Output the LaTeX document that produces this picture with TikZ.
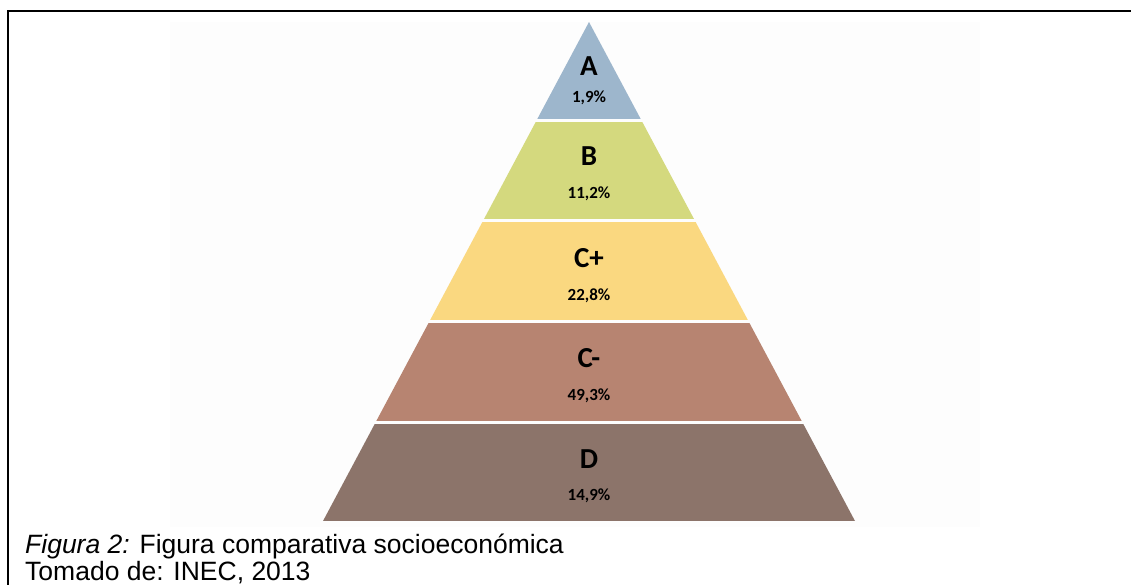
\documentclass[tikz,border=0pt]{standalone}
\usepackage{fontspec}
\setmainfont{Liberation Sans}
\newfontfamily\lblfont{Carlito}
\definecolor{cA}{RGB}{157,182,204}
\definecolor{cB}{RGB}{212,217,126}
\definecolor{cCp}{RGB}{250,216,128}
\definecolor{cCm}{RGB}{183,132,113}
\definecolor{cD}{RGB}{140,116,106}
\definecolor{bgfaint}{RGB}{253,253,253}
\tikzset{
  lvl/.style={font=\lblfont\bfseries\fontsize{29}{31}\selectfont, anchor=base, inner sep=0pt},
  pct/.style={font=\lblfont\bfseries\fontsize{17}{19}\selectfont, anchor=base, inner sep=0pt},
  captxt/.style={font=\fontsize{26.5}{30}\selectfont, anchor=base west, inner sep=0pt},
  frameline/.style={line width=2.6pt}
}
\begin{document}
\begin{tikzpicture}[x=1pt,y=-1pt]
\useasboundingbox (0,0) rectangle (1131,585);
\fill[white] (0,0) rectangle (1131,585);
\fill[bgfaint] (170,22) rectangle (980,527);
\draw[frameline] (8,585) -- (8,11) -- (1131,11);
\begin{scope}
  \clip (589,22) -- (323,521) -- (855,521) -- cycle;
  \fill[cA] (300,0) rectangle (900,119);
  \fill[cB] (300,122) rectangle (900,219);
  \fill[cCp] (300,222) rectangle (900,320);
  \fill[cCm] (300,323) rectangle (900,421);
  \fill[cD] (300,424) rectangle (900,521);
\end{scope}
\node[lvl] (la) at (589,76) {A};
\node[pct] (pa) at (589,103) {1,9\%};
\node[lvl] (lb) at (589,166) {B};
\node[pct] (pb) at (589,199) {11,2\%};
\node[lvl] (lcp) at (589,267) {C+};
\node[pct] (pcp) at (589,300) {22,8\%};
\node[lvl] (lcm) at (589,367) {C-};
\node[pct] (pcm) at (589,400) {49,3\%};
\node[lvl] (ld) at (589,468) {D};
\node[pct] (pd) at (589,500) {14,9\%};
\node[captxt] (c1) at (25,553) {\textit{Figura 2:} Figura comparativa socioeconómica};
\node[captxt] (c2) at (25,580) {Tomado de: INEC, 2013};
\end{tikzpicture}
\end{document}
